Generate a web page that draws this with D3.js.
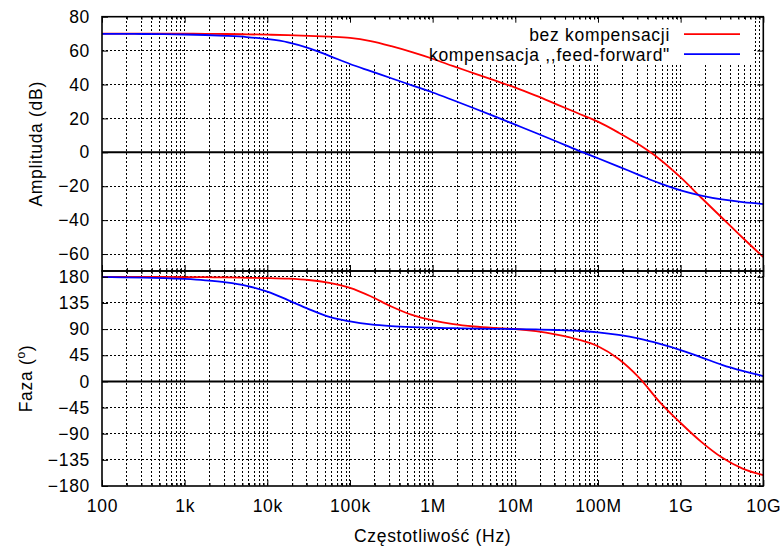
<!DOCTYPE html>
<html>
<head>
<meta charset="utf-8">
<script src="https://cdn.jsdelivr.net/npm/d3@7"></script>
<style>
  html, body { margin: 0; padding: 0; background: #fff; }
  svg { display: block; font-family: "Liberation Sans", Arial, Helvetica, sans-serif; }
  .lbl { font-size: 17.5px; letter-spacing: 0.7px; fill: #000; }
</style>
</head>
<body>
<svg id="chart" width="784" height="549"></svg>
<script>
// Frequency samples (Hz), quarter-decade steps from 100 Hz to 10 GHz
const freqHz = [
  1e2, 1.778e2, 3.162e2, 5.623e2,
  1e3, 1.778e3, 3.162e3, 5.623e3,
  1e4, 1.778e4, 3.162e4, 5.623e4,
  1e5, 1.778e5, 3.162e5, 5.623e5,
  1e6, 1.778e6, 3.162e6, 5.623e6,
  1e7, 1.778e7, 3.162e7, 5.623e7,
  1e8, 1.778e8, 3.162e8, 5.623e8,
  1e9, 1.778e9, 3.162e9, 5.623e9,
  1e10
];

// Amplitude (dB)
const ampBez = [
  70, 70, 70, 70,
  70, 69.9, 69.8, 69.6,
  69.4, 69.1, 68.7, 68.2,
  67.5, 65.6, 62.6, 59.1,
  55.2, 50.8, 46.6, 42.4,
  38.2, 33.4, 28.3, 23.2,
  18.1, 11.6, 4.4, -4.2,
  -14.8, -26.8, -38.6, -50.4,
  -61.8
];
const ampFF = [
  69.9, 69.9, 69.8, 69.7,
  69.5, 69.2, 68.7, 68.0,
  66.8, 64.9, 61.5, 56.9,
  52.1, 47.9, 43.7, 39.5,
  35.3, 30.7, 26.0, 21.2,
  16.3, 11.4, 6.4, 1.3,
  -3.5, -8.4, -13.4, -18.3,
  -22.4, -25.5, -27.8, -29.4,
  -30.5
];

// Phase (degrees)
const phaseBez = [
  180, 180, 179.9, 179.8,
  179.6, 179.3, 178.9, 178.3,
  177.8, 176.8, 174.5, 169.5,
  161, 146.5, 129, 114.5,
  105, 98.5, 94.5, 92,
  90.2, 86.5, 80.5, 72.5,
  60.5, 38.5, 6, -36,
  -71.6, -104, -131, -150,
  -161.3
];
const phaseFF = [
  179.5, 179.2, 178.7, 177.8,
  176.3, 174, 170.5, 164.5,
  154.5, 140, 124.5, 111,
  103.3, 98, 95, 93.3,
  92.3, 91.6, 91, 90.5,
  90, 89.4, 88.5, 87.2,
  84.5, 80, 73.5, 64.5,
  54, 41.5, 28.5, 18,
  9.1
];

// Axis ticks and labels
const freqTicks  = [1e2, 1e3, 1e4, 1e5, 1e6, 1e7, 1e8, 1e9, 1e10];
const freqLabels = ["100", "1k", "10k", "100k", "1M", "10M", "100M", "1G", "10G"];
const ampTicks   = [80, 60, 40, 20, 0, -20, -40, -60];
const phaseTicks = [180, 135, 90, 45, 0, -45, -90, -135, -180];

const seriesNames  = ["bez kompensacji", "kompensacja ,,feed-forward\""];
const seriesColors = ["#ff0000", "#0000ff"];

// ---- layout ----
const X0 = 102, X1 = 763.3;
const TOP = 16.7, MID = 271, BOT = 486;

const svg = d3.select("#chart");

const x  = d3.scaleLog().domain([1e2, 1e10]).range([X0, X1]);
const yA = d3.scaleLinear().domain([-70, 80]).range([MID, TOP]);
const yP = d3.scaleLinear().domain([-180, 190]).range([BOT, MID]);

// minor decade positions 2..9 within each decade
const minorFreqs = [];
for (let d = 2; d < 10; d++) for (let m = 2; m <= 9; m++) minorFreqs.push(m * Math.pow(10, d));
const gridFreqs = freqTicks.slice(1, -1).concat(minorFreqs);

function drawGrid(y, yTicks, top, bottom) {
  const g = svg.append("g")
    .attr("stroke", "#000").attr("stroke-width", 1)
    .attr("stroke-dasharray", "2,2").attr("shape-rendering", "crispEdges");
  g.selectAll("line.gx").data(gridFreqs).join("line").attr("class", "gx")
    .attr("x1", d => x(d)).attr("x2", d => x(d))
    .attr("y1", top).attr("y2", bottom);
  g.selectAll("line.gy").data(yTicks.filter(v => v !== 0 && y(v) > top + 1 && y(v) < bottom - 1))
    .join("line").attr("class", "gy")
    .attr("x1", X0).attr("x2", X1)
    .attr("y1", d => y(d)).attr("y2", d => y(d));
  // zero line
  svg.append("line")
    .attr("x1", X0).attr("x2", X1)
    .attr("y1", y(0)).attr("y2", y(0))
    .attr("stroke", "#000").attr("stroke-width", 2);
}

function drawCurves(y, sets) {
  const line = d3.line()
    .x(d => x(d[0])).y(d => y(d[1]))
    .curve(d3.curveMonotoneX);
  sets.forEach((vals, i) => {
    svg.append("path")
      .datum(freqHz.map((f, k) => [f, vals[k]]))
      .attr("fill", "none")
      .attr("stroke", seriesColors[i])
      .attr("stroke-width", 1.8)
      .attr("d", line);
  });
}

function drawAxes(y, yTicks, top, bottom, withXLabels) {
  const clean = g => {
    g.select(".domain").remove();
    g.selectAll("line").attr("stroke", "#000").attr("stroke-width", 1);
    g.selectAll("text").attr("class", "lbl").attr("font-size", null).attr("font-family", null);
  };
  // left with labels
  svg.append("g").attr("transform", `translate(${X0},0)`)
    .call(d3.axisLeft(y).tickValues(yTicks).tickSizeInner(-6).tickSizeOuter(0).tickPadding(12))
    .call(clean);
  // right mirror
  svg.append("g").attr("transform", `translate(${X1},0)`)
    .call(d3.axisRight(y).tickValues(yTicks).tickSizeInner(-6).tickSizeOuter(0).tickFormat(""))
    .call(clean);
  // top mirror (major + minor)
  svg.append("g").attr("transform", `translate(0,${top})`)
    .call(d3.axisTop(x).tickValues(freqTicks).tickSizeInner(-6).tickSizeOuter(0).tickFormat(""))
    .call(clean);
  svg.append("g").attr("transform", `translate(0,${top})`)
    .call(d3.axisTop(x).tickValues(minorFreqs).tickSizeInner(-3).tickSizeOuter(0).tickFormat(""))
    .call(clean);
  // bottom
  svg.append("g").attr("transform", `translate(0,${bottom})`)
    .call(d3.axisBottom(x).tickValues(freqTicks).tickSizeInner(-6).tickSizeOuter(0).tickPadding(13.2)
      .tickFormat((d, i) => withXLabels ? freqLabels[i] : ""))
    .call(clean);
  svg.append("g").attr("transform", `translate(0,${bottom})`)
    .call(d3.axisBottom(x).tickValues(minorFreqs).tickSizeInner(-3).tickSizeOuter(0).tickFormat(""))
    .call(clean);
  // frame
  svg.append("rect")
    .attr("x", X0).attr("y", top)
    .attr("width", X1 - X0).attr("height", bottom - top)
    .attr("fill", "none").attr("stroke", "#000").attr("stroke-width", 1.6);
}

// ---- amplitude panel ----
drawGrid(yA, ampTicks, TOP, MID);
// legend background
svg.append("rect")
  .attr("x", 333).attr("y", 21).attr("width", 421).attr("height", 42)
  .attr("fill", "#fff");
drawCurves(yA, [ampBez, ampFF]);
drawAxes(yA, ampTicks, TOP, MID, false);

// ---- phase panel ----
drawGrid(yP, phaseTicks, MID, BOT);
drawCurves(yP, [phaseBez, phaseFF]);
drawAxes(yP, phaseTicks, MID, BOT, true);

// ---- legend ----
const legend = svg.append("g");
seriesNames.forEach((name, i) => {
  const by = 40.7 + i * 20;
  legend.append("text").attr("class", "lbl")
    .attr("x", 670).attr("y", by).attr("text-anchor", "end")
    .text(name);
  legend.append("line")
    .attr("x1", 684).attr("x2", 740)
    .attr("y1", by - 6.5).attr("y2", by - 6.5)
    .attr("stroke", seriesColors[i]).attr("stroke-width", 1.8);
});

// ---- axis titles ----
svg.append("text").attr("class", "lbl")
  .attr("x", (X0 + X1) / 2).attr("y", 541.7)
  .attr("text-anchor", "middle")
  .text("Częstotliwość (Hz)");

svg.append("text").attr("class", "lbl")
  .attr("transform", `translate(42,${(TOP + MID) / 2}) rotate(-90)`)
  .attr("text-anchor", "middle")
  .text("Amplituda (dB)");

const faza = svg.append("text").attr("class", "lbl")
  .attr("transform", `translate(32,${(MID + BOT) / 2}) rotate(-90)`)
  .attr("text-anchor", "middle");
faza.append("tspan").text("Faza (");
faza.append("tspan").attr("dy", -7).attr("font-size", "12px").text("o");
faza.append("tspan").attr("dy", 7).text(")");
</script>
</body>
</html>
